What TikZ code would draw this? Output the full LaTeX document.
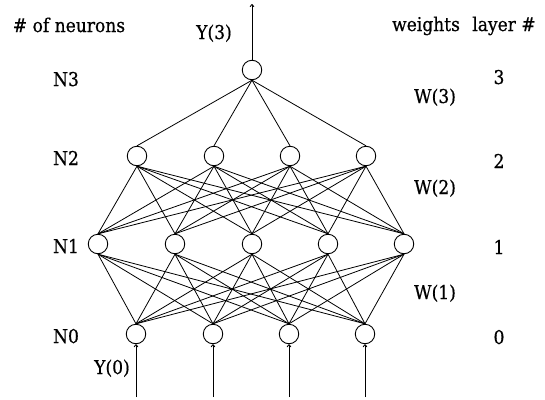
\documentclass[tikz,border=0pt]{standalone}
\usepackage{fontspec}
\setmainfont{DejaVu Serif}[FakeStretch=0.9,FakeBold=0.6]
\usetikzlibrary{arrows.meta}
\begin{document}
\begin{tikzpicture}[x=1pt,y=-1pt,
  neuron/.style={circle,draw,line width=0.9pt,minimum size=19.5pt,inner sep=0pt},
  lbl/.style={font=\fontsize{19}{22}\selectfont,inner sep=0pt,anchor=base},
  conn/.style={line width=0.8pt},
  arr/.style={line width=0.9pt,-{To[length=3pt,width=4.5pt]}}]
\useasboundingbox (0,0) rectangle (545,399);
% neurons
\node[neuron] (L3n1) at (252,70) {};
\foreach \x [count=\i] in {137,214,290,366} \node[neuron] (L2n\i) at (\x,156) {};
\foreach \x [count=\i] in {98,175,252,328,404} \node[neuron] (L1n\i) at (\x,244) {};
\foreach \x [count=\i] in {136,213,289,365} \node[neuron] (L0n\i) at (\x,334) {};
% connections
\foreach \j in {1,...,4} \draw[conn] (L3n1.south) -- (L2n\j.north);
\foreach \i in {1,...,4} \foreach \j in {1,...,5} \draw[conn] (L2n\i.south) -- (L1n\j.north);
\foreach \i in {1,...,5} \foreach \j in {1,...,4} \draw[conn] (L1n\i.south) -- (L0n\j.north);
% output and inputs
\coordinate (out) at (252,4);
\draw[arr] (L3n1.north) -- (out);
\foreach \x [count=\i] in {136,213,289,365} {
  \coordinate (in\i) at (\x,397);
  \draw[arr] (in\i) -- (L0n\i.south);
}
% labels
\node[lbl] (hneur) at (69,32) {\# of neurons};
\node[lbl] (hw) at (426,31) {weights};
\node[lbl] (hl) at (504,31) {layer \#};
\node[lbl] (y3) at (214,39) {Y(3)};
\node[lbl] (y0) at (112,374) {Y(0)};
\node[lbl] (n3) at (66,86) {N3};
\node[lbl] (n2) at (66,165) {N2};
\node[lbl] (n1) at (66,253) {N1};
\node[lbl] (n0) at (66,343) {N0};
\node[lbl] (k3) at (499,84) {3};
\node[lbl] (k2) at (499,168) {2};
\node[lbl] (k1) at (499,254) {1};
\node[lbl] (k0) at (499,344) {0};
\node[lbl] (w3) at (435,103) {W(3)};
\node[lbl] (w2) at (435,194) {W(2)};
\node[lbl] (w1) at (435,299) {W(1)};
\end{tikzpicture}
\end{document}
